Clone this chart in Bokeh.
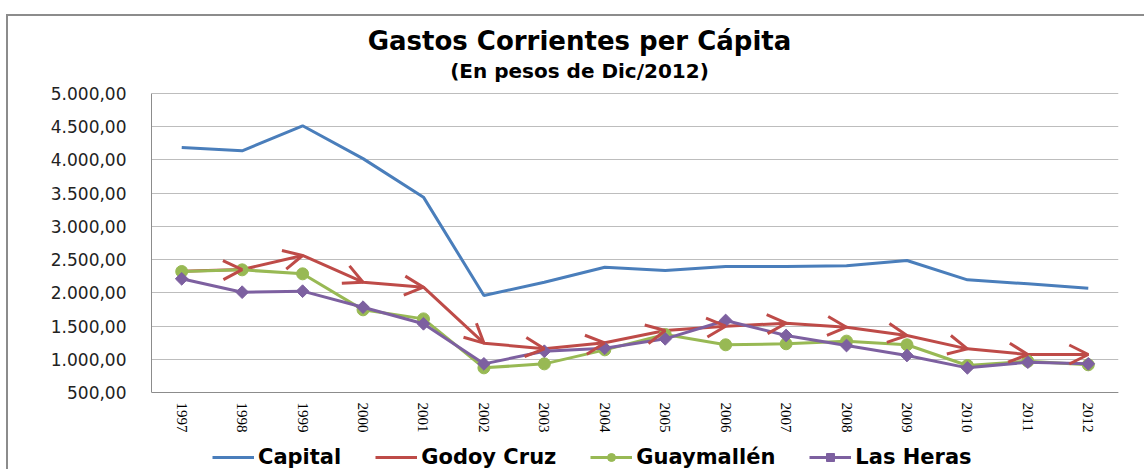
import math
from bokeh.plotting import figure
from bokeh.models import (ColumnDataSource, Arrow, OpenHead, FixedTicker, Legend, LegendItem, Label)
from bokeh.embed import file_html
from bokeh.resources import INLINE

years = ["1997", "1998", "1999", "2000", "2001", "2002", "2003", "2004",
         "2005", "2006", "2007", "2008", "2009", "2010", "2011", "2012"]
capital = [4187, 4137, 4514, 4020, 3440, 1960, 2160, 2386, 2336, 2396, 2396, 2407, 2487, 2196, 2136, 2070]
godoy_cruz = [2326, 2350, 2562, 2160, 2085, 1243, 1157, 1248, 1433, 1498, 1543, 1483, 1358, 1157, 1072, 1072]
guaymallen = [2321, 2346, 2286, 1744, 1608, 871, 931, 1142, 1373, 1218, 1233, 1273, 1218, 906, 970, 917]
las_heras = [2211, 2010, 2025, 1784, 1534, 931, 1121, 1167, 1308, 1584, 1358, 1207, 1057, 871, 956, 931]
y_ticks = [500, 1000, 1500, 2000, 2500, 3000, 3500, 4000, 4500, 5000]
y_tick_labels = ["500,00", "1.000,00", "1.500,00", "2.000,00", "2.500,00", "3.000,00",
                 "3.500,00", "4.000,00", "4.500,00", "5.000,00"]
series_names = ["Capital", "Godoy Cruz", "Guaymallén", "Las Heras"]
title_text = "Gastos Corrientes per Cápita"
subtitle_text = "(En pesos de Dic/2012)"

BLUE = "#4A7EBB"
RED = "#BE4B48"
GREEN = "#98B954"
PURPLE = "#7D60A0"

xs = list(range(len(years)))
y_min, y_max = y_ticks[0], y_ticks[-1]
# value axis spans 299 px; 77 px above it hold the titles, 79 px below the labels and legend
px_per_unit = 299.0 / (y_max - y_min)
y_bottom = y_min - 79.0 / px_per_unit
y_top = y_max + 77.0 / px_per_unit

p = figure(width=1138, height=455, output_backend="svg", toolbar_location=None,
           x_range=(-0.5, len(years) - 0.5), y_range=(y_bottom, y_top), title=None)
p.styles = {"position": "absolute", "top": "14px", "left": "6px",
            "border-top": "2px solid #8C8C8C", "border-left": "2px solid #8C8C8C"}
p.min_border = 0
p.min_border_left = 143
p.min_border_right = 28
p.min_border_top = 0
p.min_border_bottom = 0
p.outline_line_color = None
p.background_fill_color = "white"
p.border_fill_color = "white"

# category axis sits on the 500 line
p.xaxis.fixed_location = y_min
p.xaxis.ticker = FixedTicker(ticks=xs)
p.xaxis.major_label_overrides = {i: y for i, y in zip(xs, years)}
p.xaxis.major_label_orientation = -math.pi / 2
p.xaxis.major_label_text_font = "Liberation Serif"
p.xaxis.major_label_text_font_size = "15px"
p.xaxis.major_label_text_color = "black"
p.xaxis.major_label_standoff = 10
p.xaxis.major_tick_out = 0
p.xaxis.major_tick_in = 0
p.xaxis.minor_tick_out = 0
p.xaxis.minor_tick_in = 0
p.xaxis.axis_line_color = "#8C8C8C"

p.yaxis.ticker = FixedTicker(ticks=y_ticks)
p.yaxis.bounds = (y_min, y_max)
p.yaxis.major_label_overrides = {t: l for t, l in zip(y_ticks, y_tick_labels)}
p.yaxis.major_label_text_font = "DejaVu Sans"
p.yaxis.major_label_text_font_size = "17px"
p.yaxis.major_label_text_color = "#222222"
p.yaxis.major_label_standoff = 25
p.yaxis.major_tick_out = 0
p.yaxis.major_tick_in = 0
p.yaxis.minor_tick_out = 0
p.yaxis.minor_tick_in = 0
p.yaxis.axis_line_color = "#8C8C8C"

p.xgrid.grid_line_color = None
p.ygrid.grid_line_color = "#BDBDBD"
p.ygrid.grid_line_width = 1

# series
r_cap = p.line(xs, capital, line_color=BLUE, line_width=3)

r_god = p.line(xs, godoy_cruz, line_color=RED, line_width=3)
arrow_src = ColumnDataSource(dict(x0=xs[:-1], y0=godoy_cruz[:-1], x1=xs[1:], y1=godoy_cruz[1:]))
arrows = Arrow(source=arrow_src, x_start="x0", y_start="y0", x_end="x1", y_end="y1",
               line_alpha=0, line_width=3,
               end=OpenHead(size=19, line_color=RED, line_width=3))
p.add_layout(arrows)

r_guay = p.line(xs, guaymallen, line_color=GREEN, line_width=3)
r_guay_m = p.scatter(xs, guaymallen, marker="circle", size=12, fill_color=GREEN, line_color=GREEN)

r_lh = p.line(xs, las_heras, line_color=PURPLE, line_width=3)
r_lh_m = p.scatter(xs, las_heras, marker="square", angle=math.pi / 4, size=9,
                   fill_color=PURPLE, line_color=PURPLE)

legend = Legend(items=[
    LegendItem(label=series_names[0], renderers=[r_cap]),
    LegendItem(label=series_names[1], renderers=[r_god]),
    LegendItem(label=series_names[2], renderers=[r_guay, r_guay_m]),
    LegendItem(label=series_names[3], renderers=[r_lh, r_lh_m]),
], orientation="horizontal", location=(61, 2))
legend.label_text_font = "DejaVu Sans"
legend.label_text_font_style = "bold"
legend.label_text_font_size = "21px"
legend.label_text_color = "black"
legend.glyph_width = 42
legend.glyph_height = 20
legend.label_standoff = 4
legend.spacing = 34
legend.padding = 0
legend.margin = 0
legend.border_line_color = None
legend.background_fill_alpha = 0
p.add_layout(legend)

# titles, centred on the chart
p.add_layout(Label(x=569, y=22, x_units="canvas", y_units="canvas", text=title_text,
                   text_align="center", text_baseline="alphabetic",
                   text_font="DejaVu Sans", text_font_style="bold", text_font_size="26px",
                   text_color="black"))
p.add_layout(Label(x=569, y=52, x_units="canvas", y_units="canvas", text=subtitle_text,
                   text_align="center", text_baseline="alphabetic",
                   text_font="DejaVu Sans", text_font_style="bold", text_font_size="20px",
                   text_color="black"))

open("out.html", "w").write(file_html(p, INLINE))
